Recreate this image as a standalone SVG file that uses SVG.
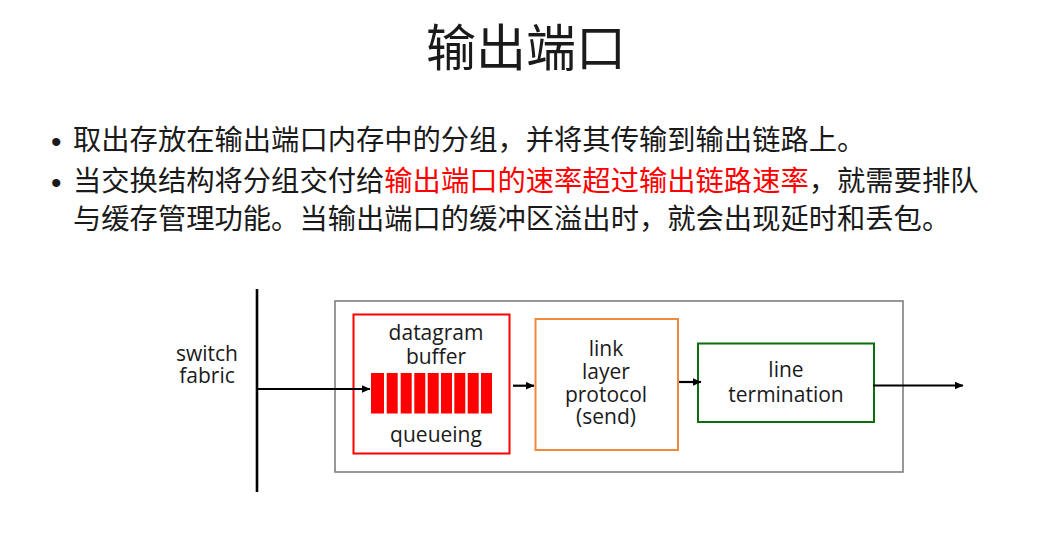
<svg xmlns="http://www.w3.org/2000/svg" width="1045" height="539" viewBox="0 0 1045 539">
<style>
.cjk{font-family:"Microsoft YaHei","Noto Sans CJK SC","Noto Sans",sans-serif;fill:#1a1a1a}
.bul{font-family:"Liberation Sans",sans-serif;font-size:30px;fill:#1a1a1a}
.lbl{font-family:"Open Sans","Liberation Sans",sans-serif;font-size:21px;fill:#1a1a1a;text-anchor:middle}
.conn{stroke:#000;stroke-width:2.2;fill:none}
.bar{fill:#ff0000}
</style>
<defs>
<marker id="ah" markerUnits="userSpaceOnUse" markerWidth="9" markerHeight="8" refX="8.5" refY="4" orient="auto">
<path d="M0,0 L9,4 L0,8 z" fill="#000"/>
</marker>
</defs>
<rect width="1045" height="539" fill="#fff"/>
<text class="cjk" x="526" y="66" font-size="50" text-anchor="middle" fill="#111">输出端口</text>
<g id="bullets">
<text class="bul" x="51" y="152">•</text>
<text class="cjk" x="73" y="150" font-size="28.3">取出存放在输出端口内存中的分组，并将其传输到输出链路上。</text>
<text class="bul" x="51" y="193">•</text>
<text class="cjk" x="73" y="191" font-size="28.3">当交换结构将分组交付给<tspan fill="#ff0000">输出端口的速率超过输出链路速率</tspan>，就需要排队<tspan x="73" y="229">与缓存管理功能。当输出端口的缓冲区溢出时，就会出现延时和丢包。</tspan></text>
</g>
<g id="fabric">
<line x1="257" y1="289" x2="257" y2="492" stroke="#000" stroke-width="2.6"/>
<text class="lbl" x="207" y="361">switch<tspan x="207" y="383">fabric</tspan></text>
</g>
<g id="port">
<rect x="335" y="301" width="568" height="171" fill="none" stroke="#7f7f7f" stroke-width="1.6"/>
</g>
<g id="buffer">
<rect x="353.5" y="314.5" width="156" height="139" fill="none" stroke="#ff0000" stroke-width="2"/>
<text class="lbl" x="436" y="340">datagram<tspan x="436" y="364">buffer</tspan></text>
<rect class="bar" x="371" y="373" width="13" height="40.5"/>
<rect class="bar" x="386.7" y="373" width="11" height="40.5"/>
<rect class="bar" x="400.7" y="373" width="11" height="40.5"/>
<rect class="bar" x="414.3" y="373" width="11" height="40.5"/>
<rect class="bar" x="427.7" y="373" width="11" height="40.5"/>
<rect class="bar" x="441" y="373" width="11" height="40.5"/>
<rect class="bar" x="454.3" y="373" width="11" height="40.5"/>
<rect class="bar" x="467.7" y="373" width="11" height="40.5"/>
<rect class="bar" x="481" y="373" width="11" height="40.5"/>
<text class="lbl" x="436" y="442">queueing</text>
</g>
<g id="linklayer">
<rect x="535.5" y="319" width="142.5" height="131" fill="none" stroke="#f0883e" stroke-width="2"/>
<text class="lbl" x="606" y="356">link<tspan x="606" y="379">layer</tspan><tspan x="606" y="402">protocol</tspan><tspan x="606" y="424">(send)</tspan></text>
</g>
<g id="lineterm">
<rect x="698" y="343.5" width="176" height="78.5" fill="none" stroke="#0a6e0a" stroke-width="2"/>
<text class="lbl" x="786" y="377">line<tspan x="786" y="402">termination</tspan></text>
</g>
<g id="connectors">
<line class="conn" x1="257" y1="389" x2="370" y2="389" marker-end="url(#ah)"/>
<line class="conn" x1="513" y1="385.7" x2="534" y2="385.7" marker-end="url(#ah)"/>
<line class="conn" x1="679" y1="382" x2="701" y2="382" marker-end="url(#ah)"/>
<line class="conn" x1="873" y1="385.5" x2="963" y2="385.5" marker-end="url(#ah)"/>
</g>
</svg>
